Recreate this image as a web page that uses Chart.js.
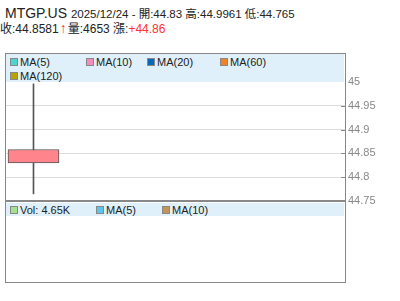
<!DOCTYPE html>
<html>
<head>
<meta charset="utf-8">
<script src="https://cdn.jsdelivr.net/npm/chart.js@4"></script>
<style>
  body { margin: 0; width: 400px; height: 301px; background: #fff; position: relative; overflow: hidden;
         font-family: "Liberation Sans", Arial, "Noto Sans CJK TC", sans-serif; color: #222; }
  .abs { position: absolute; white-space: nowrap; }
  .band { position: absolute; background: #dff0fa; }
  .sq { position: absolute; width: 6px; height: 6px; border: 1px solid #888; }
  .lbl { position: absolute; font-size: 11px; line-height: 12px; }
</style>
</head>
<body>
<div class="abs" id="head1" style="left:5px;top:6px;font-size:14px;line-height:15px"></div>
<div class="abs" id="head2" style="left:0;top:21px;font-size:12px;line-height:14px"></div>

<!-- price panel frame -->
<div class="abs" style="left:5px;top:53px;width:339px;height:148px;border:1px solid #888;border-bottom:none"></div>
<div class="band" style="left:6px;top:54px;width:338px;height:28px"></div>
<div id="legendMain"></div>
<div class="abs" style="left:5px;top:200px;width:341px;height:2px;background:#888"></div>

<!-- volume panel frame -->
<div class="abs" style="left:5px;top:202px;width:339px;height:80px;border:1px solid #888;border-top:none"></div>
<div class="band" style="left:6px;top:203px;width:338px;height:13px"></div>
<div id="legendVol"></div>

<canvas id="kline" width="400" height="301" style="position:absolute;left:0;top:0"></canvas>

<script>
// one trading day
const dates = ['2025/12/24'];
const openVals = [44.83];
const highVals = [44.9961];
const lowVals = [44.765];
const closeVals = [44.8581];
const volumes = [4653];
const changes = [44.86];
const priceTicks = [44.75, 44.8, 44.85, 44.9, 44.95, 45];

const maNames = ['MA(5)', 'MA(10)', 'MA(20)', 'MA(60)', 'MA(120)'];
const maColors = ['#4cd4d0', '#f48cbc', '#0868b8', '#f08424', '#b4a404'];
const volNames = ['MA(5)', 'MA(10)'];
const volColors = ['#5cc4f0', '#c49454'];

// header text
document.getElementById('head1').innerHTML =
  'MTGP.US <span style="font-size:11.5px">' + dates[0] + ' - 開:' + openVals[0] +
  ' 高:' + highVals[0] + ' 低:' + lowVals[0] + '</span>';
document.getElementById('head2').innerHTML =
  '收:' + closeVals[0] + '<span style="color:#f33;font-weight:bold;font-size:14px;margin:0 1px">↑</span>量:' + volumes[0] +
  ' 漲:<span style="color:#f33">+' + changes[0] + '</span>';

function legendItem(parent, x, y, color, text) {
  const sq = document.createElement('div');
  sq.className = 'sq';
  sq.style.left = x + 'px';
  sq.style.top = y + 'px';
  sq.style.background = color;
  parent.appendChild(sq);
  const t = document.createElement('div');
  t.className = 'lbl';
  t.style.left = (x + 10) + 'px';
  t.style.top = (y - 2) + 'px';
  t.textContent = text;
  parent.appendChild(t);
}

const legMain = document.getElementById('legendMain');
const mainPos = [[10, 58], [86, 58], [147, 58], [220, 58], [10, 72]];
maNames.forEach((n, i) => legendItem(legMain, mainPos[i][0], mainPos[i][1], maColors[i], n));

const legVol = document.getElementById('legendVol');
legendItem(legVol, 10, 206, '#a4e090', 'Vol:  ' + (volumes[0] / 1000).toFixed(2) + 'K');
legendItem(legVol, 96, 206, volColors[0], volNames[0]);
legendItem(legVol, 162, 206, volColors[1], volNames[1]);

// short dark tick marks just inside the price axis
const innerTicks = {
  id: 'innerTicks',
  afterDraw(chart) {
    const y = chart.scales.y;
    const c = chart.ctx;
    c.save();
    c.strokeStyle = '#888';
    c.lineWidth = 1;
    priceTicks.slice(1, -1).forEach(v => {
      const py = Math.round(y.getPixelForValue(v)) + 0.5;
      c.beginPath();
      c.moveTo(y.left - 4, py);
      c.lineTo(y.left, py);
      c.stroke();
    });
    c.restore();
  }
};

const ctx = document.getElementById('kline');

new Chart(ctx, {
  type: 'bar',
  data: {
    datasets: [{
      label: 'body',
      data: dates.map((d, i) => ({ x: i, y: [openVals[i], closeVals[i]] })),
      backgroundColor: '#ff848c',
      borderColor: '#555',
      borderWidth: 1,
      borderSkipped: false,
      barThickness: 51,
      grouped: false,
      order: 0
    }, {
      label: 'wick',
      data: dates.map((d, i) => ({ x: i, y: [lowVals[i], highVals[i]] })),
      backgroundColor: '#555',
      borderWidth: 0,
      barThickness: 1,
      grouped: false,
      order: 1
    }]
  },
  options: {
    responsive: false,
    animation: false,
    layout: { padding: { left: 6, top: 82, bottom: 100, right: 0 } },
    plugins: { legend: { display: false }, tooltip: { enabled: false } },
    scales: {
      x: { type: 'linear', min: -1, max: 11.33, offset: false, display: false },
      y: {
        position: 'right',
        min: 44.75,
        max: 45,
        afterBuildTicks: (scale) => { scale.ticks = priceTicks.map(v => ({ value: v })); },
        afterFit: (scale) => { scale.width = 55; },
        border: { display: false },
        grid: {
          drawTicks: false,
          color: (c) => (c.tick && (c.tick.value === 45 || c.tick.value === 44.75)) ? 'rgba(0,0,0,0)' : '#ddd'
        },
        ticks: {
          padding: 3,
          color: '#888',
          font: { family: 'Liberation Sans', size: 11 },
          callback: (v) => String(v)
        }
      }
    }
  },
  plugins: [innerTicks]
});
</script>
</body>
</html>
